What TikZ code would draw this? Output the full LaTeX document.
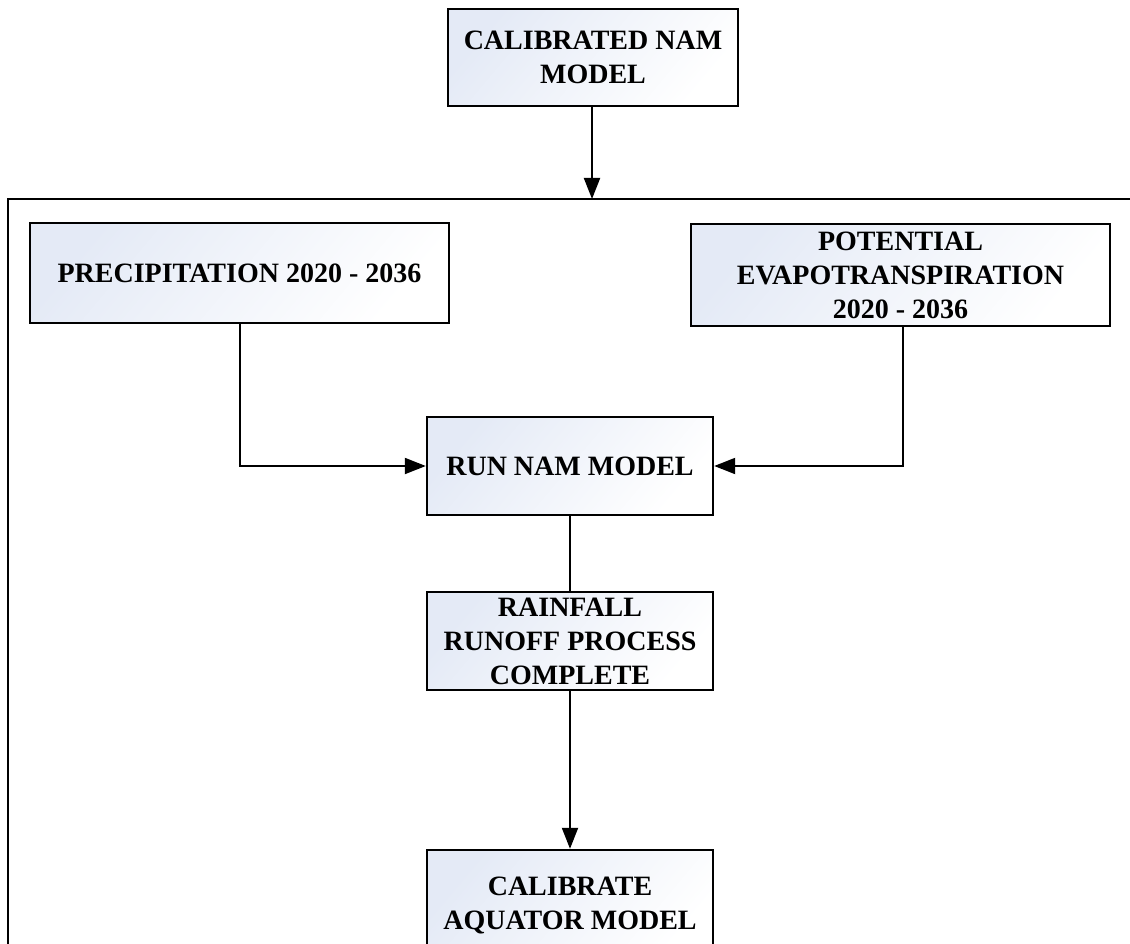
\documentclass[tikz,border=0pt]{standalone}
\usepackage{fontspec}
\setmainfont{Liberation Serif}
\usetikzlibrary{arrows.meta}
\definecolor{boxblue}{RGB}{228,234,246}
\tikzset{
  box/.style={draw=black, line width=2.4pt, left color=boxblue, right color=white,
    shading angle=50, inner sep=0pt, align=center,
    font=\bfseries\fontsize{28}{34}\selectfont},
  flow/.style={line width=2pt, -{Triangle[length=21pt,width=16pt]}},
  link/.style={line width=2pt}
}
\begin{document}
\begin{tikzpicture}[x=1pt, y=-1pt]
\useasboundingbox (0,0) rectangle (1130,944);
\clip (0,0) rectangle (1130,944);
% Frame
\draw[line width=2pt] (8,199) rectangle (1160,980);

% Boxes
\node[box, minimum width=290, minimum height=97] (calib) at (593,57.5) {CALIBRATED NAM\\MODEL};
\node[box, minimum width=419, minimum height=100] (precip) at (239.5,273) {PRECIPITATION 2020 - 2036};
\node[box, minimum width=419, minimum height=102] (pet) at (900.5,275) {POTENTIAL\\EVAPOTRANSPIRATION\\2020 - 2036};
\node[box, minimum width=286, minimum height=98] (run) at (570,466) {RUN NAM MODEL};
\node[box, minimum width=286, minimum height=98] (rr) at (570,641) {RAINFALL\\RUNOFF PROCESS\\COMPLETE};
\node[box, minimum width=286, minimum height=110] (aqua) at (570,905) {CALIBRATE\\AQUATOR MODEL};
\coordinate (frametop) at (592,199);

% Connectors
\draw[flow] (calib.south -| frametop) -- (frametop);
\draw[flow] (precip.south) |- (run.west);
\draw[flow] (pet.south -| 903,0) |- (run.east);
\draw[link] (run.south) -- (rr.north);
\draw[flow] (rr.south) -- (aqua.north);
\end{tikzpicture}
\end{document}
